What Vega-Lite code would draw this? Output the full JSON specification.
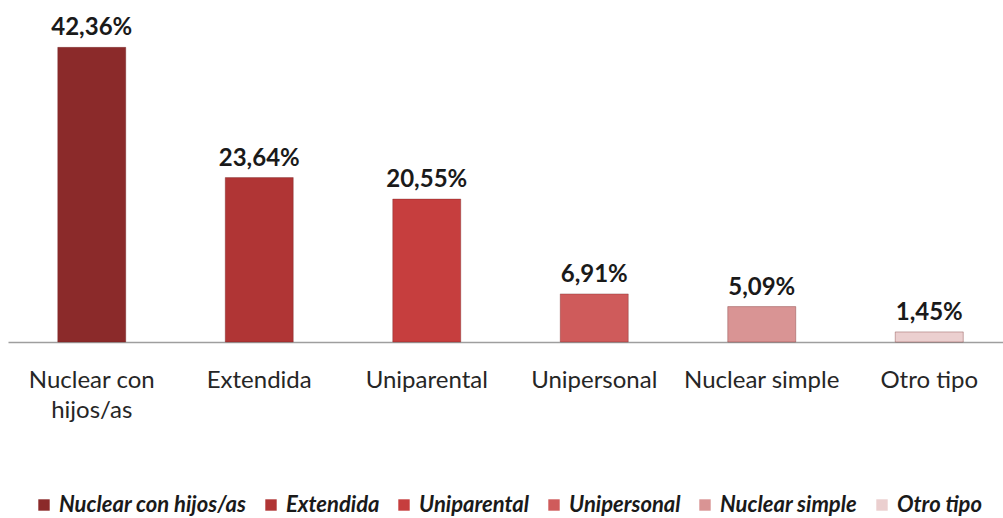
{
  "$schema": "https://vega.github.io/schema/vega-lite/v6.json",
  "autosize": "none",
  "width": 1005,
  "height": 313,
  "padding": {"left": 8, "top": 29, "right": 0, "bottom": 176},
  "background": "white",
  "config": {
    "view": {"stroke": null},
    "font": "Lato",
    "locale": {"number": {"decimal": ",", "thousands": ".", "grouping": [3], "currency": ["", "€"]}}
  },
  "data": {
    "values": [
      {"tipo": "Nuclear con hijos/as", "pct": 0.4236},
      {"tipo": "Extendida", "pct": 0.2364},
      {"tipo": "Uniparental", "pct": 0.2055},
      {"tipo": "Unipersonal", "pct": 0.0691},
      {"tipo": "Nuclear simple", "pct": 0.0509},
      {"tipo": "Otro tipo", "pct": 0.0145}
    ]
  },
  "encoding": {
    "x": {
      "field": "tipo", "type": "nominal", "sort": null,
      "scale": {"paddingInner": 0.594, "paddingOuter": 0.297},
      "axis": {
        "title": null, "domainColor": "#9E9E9E", "domainWidth": 1.5, "ticks": false,
        "labelAngle": 0, "labelFontSize": 24, "labelColor": "#262626", "labelPadding": 45,
        "labelLineHeight": 30, "labelBaseline": "alphabetic", "labelLimit": 300,
        "labelExpr": "datum.value == 'Nuclear con hijos/as' ? ['Nuclear con', 'hijos/as'] : datum.value"
      }
    },
    "y": {
      "field": "pct", "type": "quantitative",
      "scale": {"domain": [0, 0.45], "nice": false},
      "axis": null
    }
  },
  "layer": [
    {
      "mark": {"type": "bar", "stroke": "#6e1f1f", "strokeOpacity": 0.35, "strokeWidth": 1},
      "encoding": {
        "color": {
          "field": "tipo", "type": "nominal", "sort": null,
          "scale": {"range": ["#8B2A2A", "#B03535", "#C63E3E", "#CF5B5B", "#D99494", "#EBCFCF"]},
          "legend": {
            "orient": "none", "legendX": 25, "legendY": 465, "direction": "horizontal", "columns": 6,
            "title": null, "symbolType": "square", "symbolSize": 130, "symbolStrokeWidth": 0,
            "labelFontSize": 22, "labelFontStyle": "italic", "labelFontWeight": "bold",
            "labelColor": "#1a1a1a", "columnPadding": 13, "labelOffset": 4, "labelLimit": 300
          }
        }
      }
    },
    {
      "mark": {"type": "text", "baseline": "alphabetic", "dy": -12, "fontSize": 24, "fontWeight": "bold", "color": "#1a1a1a"},
      "encoding": {"text": {"field": "pct", "type": "quantitative", "format": ".2%"}}
    }
  ]
}
